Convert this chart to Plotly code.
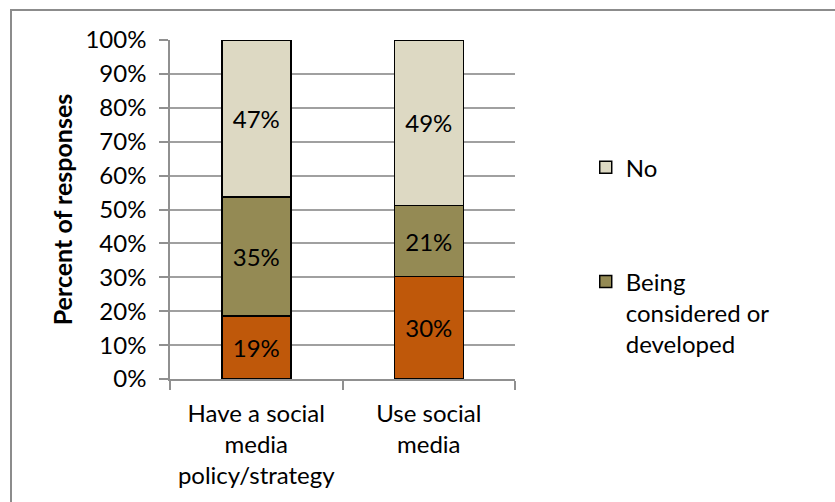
import plotly.graph_objects as go

categories = ["Have a social<br>media<br>policy/strategy", "Use social<br>media"]
yes_vals = [18.6, 30.2]
considered_vals = [35.1, 21.0]
no_vals = [46.3, 48.8]
yes_labels = ["19%", "30%"]
considered_labels = ["35%", "21%"]
no_labels = ["47%", "49%"]
y_ticks = [0, 10, 20, 30, 40, 50, 60, 70, 80, 90, 100]
y_ticktext = [f"{v}%" for v in y_ticks]

FONT = "Lato"
FS = 24

fig = go.Figure()
series = [
    ("Yes", yes_vals, yes_labels, "#BF580A", False, 3),
    ("Being<br>considered or<br>developed", considered_vals, considered_labels, "#948A54", True, 2),
    ("No", no_vals, no_labels, "#DDD9C3", True, 1),
]
for i, (name, vals, labels, color, show, rank) in enumerate(series):
    fig.add_trace(go.Bar(
        x=categories, y=vals, name=name, text=labels,
        textposition="inside", insidetextanchor="middle", textangle=0,
        textfont=dict(family=FONT, size=FS, color="black"),
        marker=dict(color=color, line=dict(color="black", width=1.5)),
        showlegend=show, legendgroup=f"g{i}", legendrank=rank,
        constraintext="none", cliponaxis=False,
    ))

fig.update_layout(
    barmode="stack",
    bargap=0.6,
    width=835, height=502,
    margin=dict(l=170, r=320, t=40, b=123),
    plot_bgcolor="white", paper_bgcolor="white",
    font=dict(family=FONT, size=FS, color="black"),
    showlegend=True,
    legend=dict(
        x=1.205, xanchor="left", y=0.69, yanchor="top",
        valign="top", traceorder="grouped", tracegroupgap=80,
        font=dict(family=FONT, size=FS, color="black"),
        bgcolor="rgba(0,0,0,0)",
    ),
    xaxis=dict(
        showline=True, linecolor="#909090", linewidth=1.5,
        ticks="outside", ticklen=9, tickcolor="#909090", tickwidth=1.5,
        tickson="boundaries", showgrid=False,
        tickfont=dict(family=FONT, size=FS, color="black"),
        ticklabelstandoff=12,
    ),
    yaxis=dict(
        range=[0, 100], tickvals=y_ticks, ticktext=y_ticktext,
        showline=True, linecolor="#909090", linewidth=1.5,
        ticks="outside", ticklen=9, tickcolor="#909090", tickwidth=1.5,
        showgrid=True, gridcolor="#A0A0A0", gridwidth=1.5,
        zeroline=False,
        tickfont=dict(family=FONT, size=FS, color="black"),
        ticklabelstandoff=8,
        title=dict(text="<b>Percent of responses</b>", font=dict(family=FONT, size=25, color="black"), standoff=6),
    ),
    shapes=[dict(
        type="rect", xref="paper", yref="paper",
        x0=(11 - 170) / 345, x1=(860 - 170) / 345,
        y0=(379 - 530) / 339, y1=(379 - 10) / 339,
        line=dict(color="#8C8C8C", width=2), fillcolor="rgba(0,0,0,0)", layer="below",
    )],
)

fig.write_html("out.html")
